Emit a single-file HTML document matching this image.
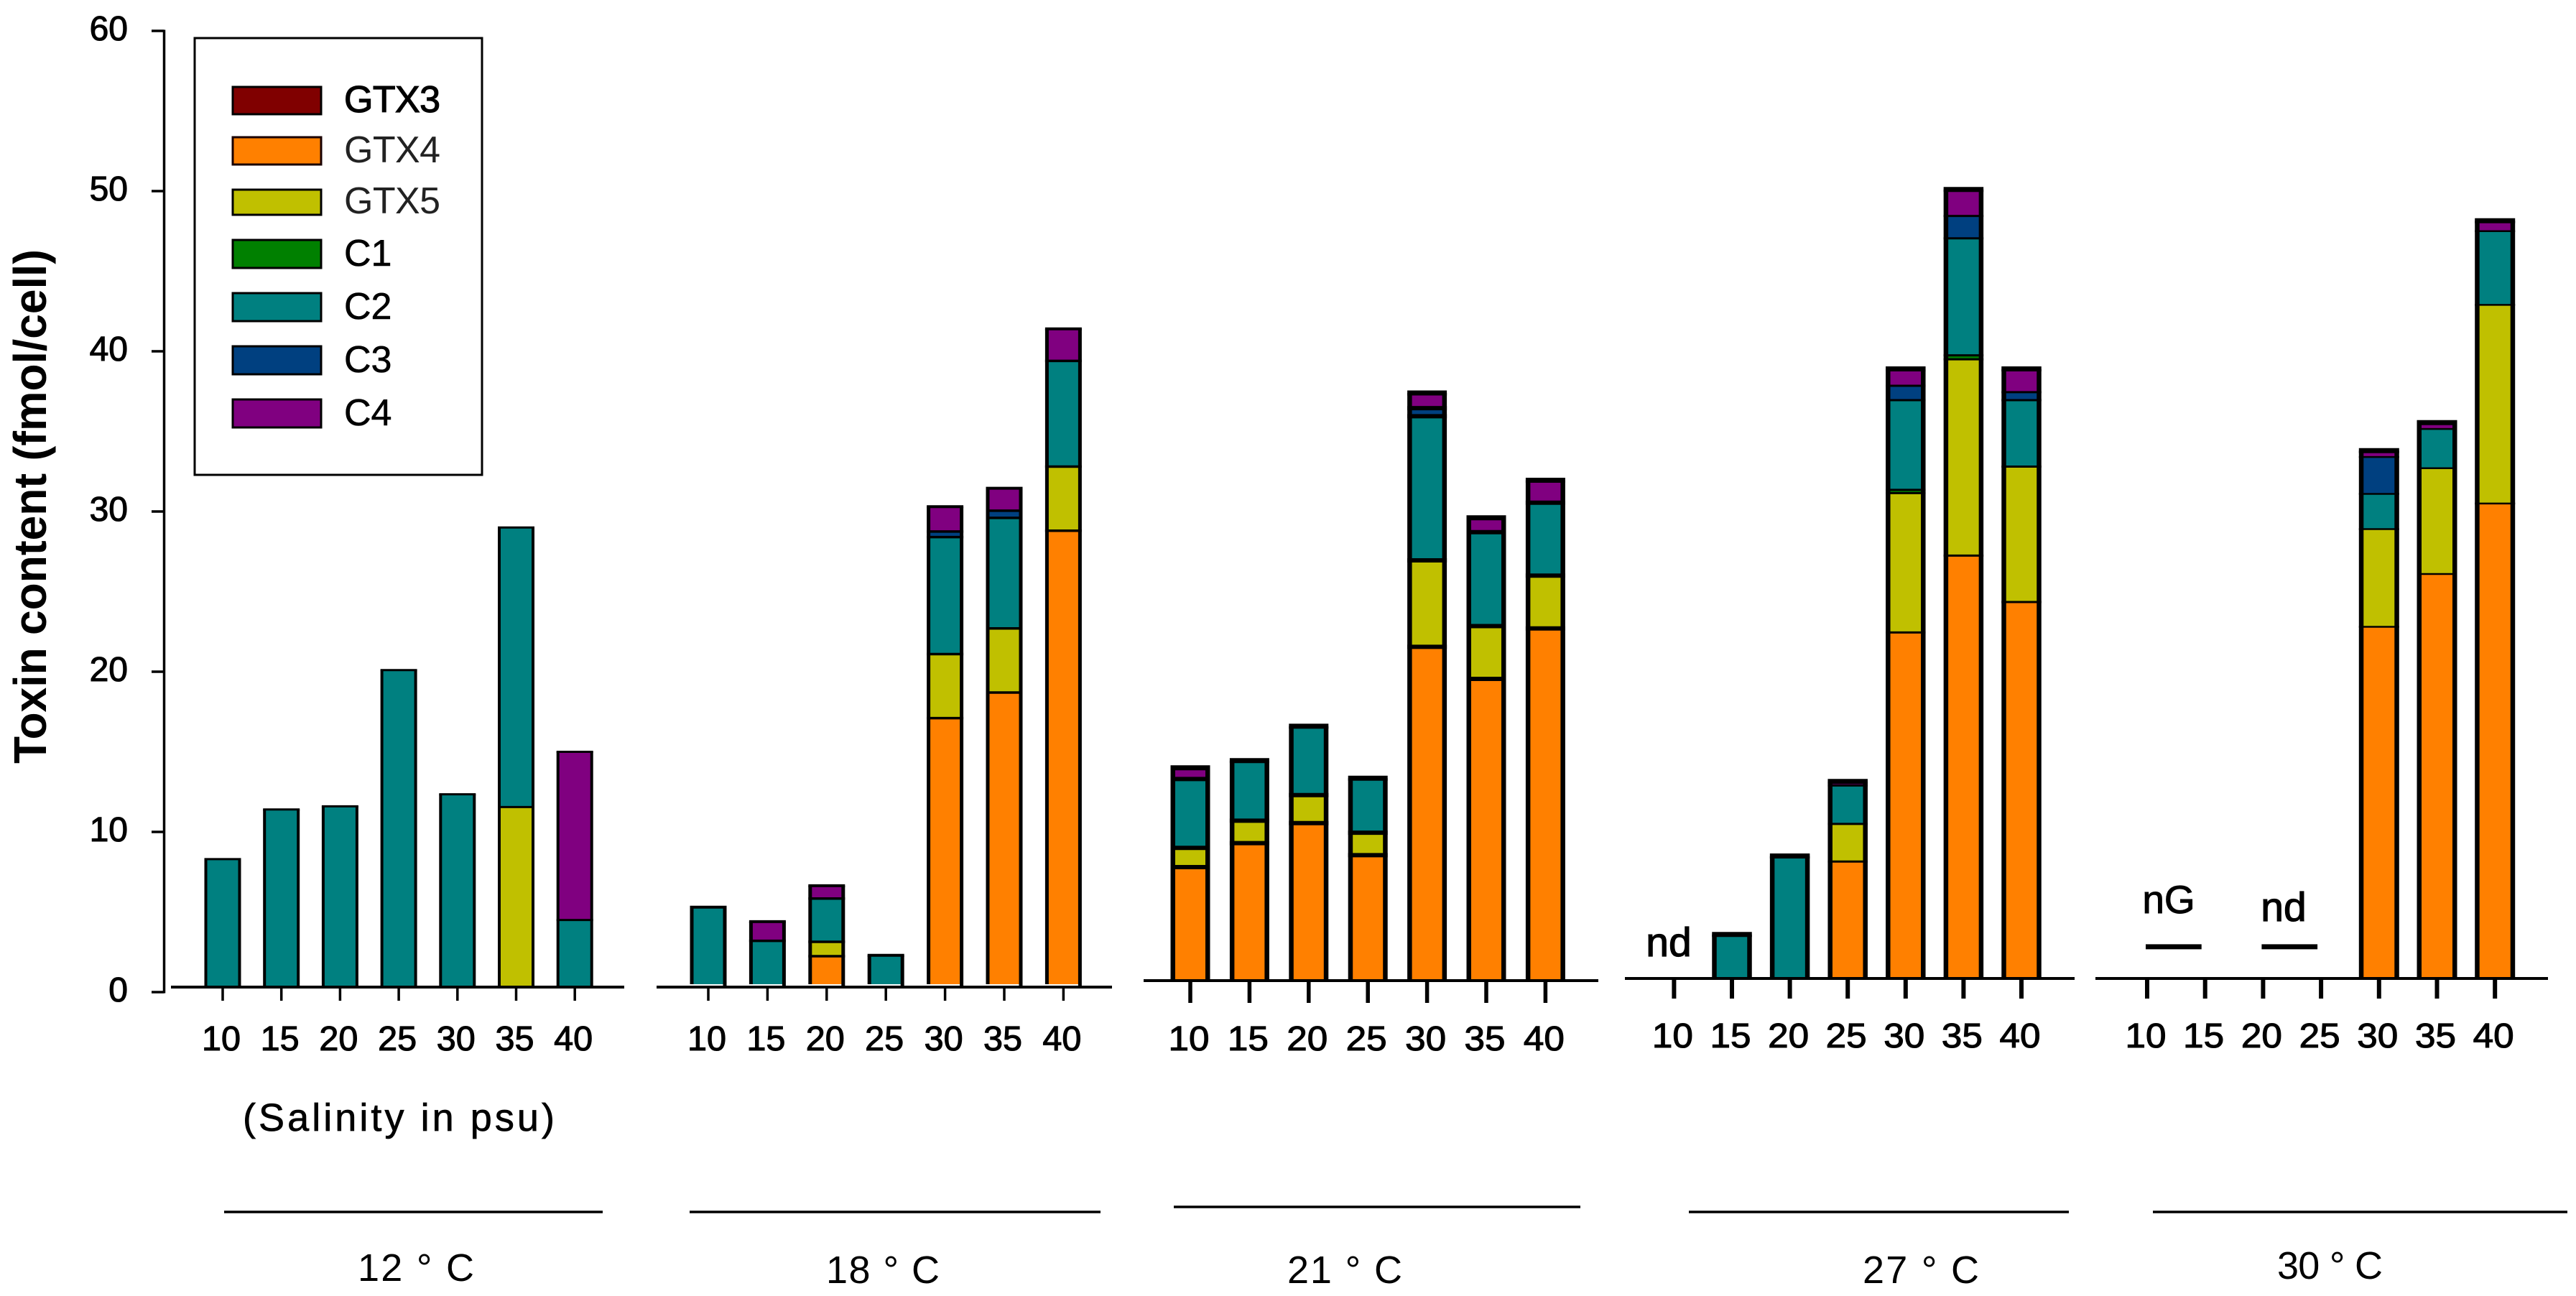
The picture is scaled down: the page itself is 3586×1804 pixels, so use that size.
<!DOCTYPE html>
<html lang="en">
<head>
<meta charset="utf-8">
<title>Toxin content by salinity and temperature</title>
<style>
html,body{margin:0;padding:0;background:#fff;}
svg{display:block;font-family:"Liberation Sans",sans-serif;}
text{fill:#000;}
.num{font-size:48px;stroke:#000;stroke-width:1.1px;}
.leg{font-size:52px;}
</style>
</head>
<body>
<svg id="chart" xmlns="http://www.w3.org/2000/svg" width="3586" height="1804" viewBox="0 0 3586 1804">
  <rect x="0" y="0" width="3586" height="1804" fill="#fff"/>
  <text transform="translate(64,1063) rotate(-90)" font-size="64" font-weight="bold" textLength="716" lengthAdjust="spacingAndGlyphs">Toxin content (fmol/cell)</text>
  <g id="y-axis"></g>
  <g id="panels"></g>

  <g>
    <rect x="271" y="53" width="400" height="608" fill="#fff" stroke="#000" stroke-width="3"/>
    <g>
      <rect x="324" y="121" width="123" height="38" fill="#800000" stroke="#000" stroke-width="3"/>
      <text class="leg" x="479" y="156" textLength="134" stroke="#000" stroke-width="1.2">GTX3</text>
    </g>
    <g>
      <rect x="324" y="191" width="123" height="38" fill="#ff8000" stroke="#1a0000" stroke-width="3"/>
      <text class="leg" x="479" y="226" textLength="134" style="fill:#222">GTX4</text>
    </g>
    <g>
      <rect x="324" y="264" width="123" height="35" fill="#c0c000" stroke="#000" stroke-width="3"/>
      <text class="leg" x="479" y="297" textLength="134" style="fill:#222">GTX5</text>
    </g>
    <g>
      <rect x="324" y="334" width="123" height="39" fill="#008000" stroke="#000" stroke-width="3"/>
      <text class="leg" x="479" y="370" stroke="#000" stroke-width=".6">C1</text>
    </g>
    <g>
      <rect x="324" y="408" width="123" height="39" fill="#008080" stroke="#000" stroke-width="3"/>
      <text class="leg" x="479" y="444" stroke="#000" stroke-width=".6">C2</text>
    </g>
    <g>
      <rect x="324" y="482" width="123" height="39" fill="#004080" stroke="#000" stroke-width="3"/>
      <text class="leg" x="479" y="518" stroke="#000" stroke-width=".6">C3</text>
    </g>
    <g>
      <rect x="324" y="556" width="123" height="39" fill="#800080" stroke="#000" stroke-width="3"/>
      <text class="leg" x="479" y="592" stroke="#000" stroke-width=".6">C4</text>
    </g>
  </g>

  <text x="338" y="1574" font-size="54" textLength="434" lengthAdjust="spacing" stroke="#000" stroke-width=".7">(Salinity in psu)</text>

  <line x1="312" y1="1687" x2="839" y2="1687" stroke="#000" stroke-width="3.5"/>
  <line x1="960" y1="1687" x2="1532" y2="1687" stroke="#000" stroke-width="3.5"/>
  <line x1="1634" y1="1680" x2="2200" y2="1680" stroke="#000" stroke-width="3.5"/>
  <line x1="2351" y1="1687" x2="2880" y2="1687" stroke="#000" stroke-width="3.5"/>
  <line x1="2997" y1="1687" x2="3574" y2="1687" stroke="#000" stroke-width="3.5"/>

  <text x="498" y="1783" font-size="54" textLength="162" lengthAdjust="spacing">12 ° C</text>
  <text x="1150" y="1786" font-size="54" textLength="158" lengthAdjust="spacing">18 ° C</text>
  <text x="1792" y="1786" font-size="54" textLength="160" lengthAdjust="spacing">21 ° C</text>
  <text x="2593" y="1786" font-size="54" textLength="162" lengthAdjust="spacing">27 ° C</text>
  <text x="3170" y="1780" font-size="54" textLength="147" lengthAdjust="spacing">30 ° C</text>

  <text x="2323" y="1331" font-size="57" text-anchor="middle" stroke="#000" stroke-width="1.2">nd</text>
  <text x="3019" y="1271" font-size="55" text-anchor="middle" stroke="#000" stroke-width="1">nG</text>
  <text x="3179" y="1282" font-size="57" text-anchor="middle" stroke="#000" stroke-width="1.2">nd</text>
</svg>
<script>
const salinityLabels = ['10','15','20','25','30','35','40'];
const yTickValues = [0,10,20,30,40,50,60];

const gtx4At12 = [0,0,0,0,0,0,0];
const gtx5At12 = [0,0,0,0,0,11.55,0];
const c1At12   = [0,0,0,0,0,0,0];
const c2At12   = [8.3,11.4,11.6,20.1,12.35,17.45,4.5];
const c3At12   = [0,0,0,0,0,0,0];
const c4At12   = [0,0,0,0,0,0,10.5];

const gtx4At18 = [0,0,2.24,0,17.1,18.7,28.8];
const gtx5At18 = [0,0,0.9,0,4.0,4.0,4.0];
const c1At18   = [0,0,0,0,0,0,0];
const c2At18   = [5.3,3.2,2.7,2.3,7.3,6.9,6.6];
const c3At18   = [0,0,0,0,0.35,0.45,0];
const c4At18   = [0,1.2,0.8,0,1.55,1.4,2.0];

const gtx4At21 = [7.8,9.3,10.55,8.55,21.55,19.55,22.7];
const gtx5At21 = [1.2,1.4,1.75,1.4,5.4,3.3,3.3];
const c1At21   = [0,0,0,0,0,0,0];
const c2At21   = [4.3,3.75,4.3,3.4,9.0,5.86,4.55];
const c3At21   = [0,0,0,0,0.5,0,0];
const c4At21   = [0.7,0,0,0,0.95,0.9,1.4];

const gtx4At27 = [0,0,0,8.15,22.45,27.25,24.35];
const gtx5At27 = [0,0,0,2.35,8.7,12.25,8.45];
const c1At27   = [0,0,0,0,0.2,0.25,0];
const c2At27   = [0,3.6,8.5,2.4,5.6,7.3,4.15];
const c3At27   = [0,0,0,0,0.9,1.4,0.5];
const c4At27   = [0,0,0,0.25,1.05,1.65,1.45];

const gtx4At30 = [0,0,0,0,22.8,26.1,30.5];
const gtx5At30 = [0,0,0,0,6.1,6.6,12.4];
const c1At30   = [0,0,0,0,0,0,0];
const c2At30   = [0,0,0,0,2.2,2.45,4.6];
const c3At30   = [0,0,0,0,2.3,0,0];
const c4At30   = [0,0,0,0,0.4,0.4,0.65];

const noGrowthDashLevel = 2.83;

// ---- series styling and panel layout ----
const seriesKeys = ['gtx4','gtx5','c1','c2','c3','c4'];
const seriesColors = {gtx4:'#ff8000',gtx5:'#c0c000',c1:'#008000',c2:'#008080',c3:'#004080',c4:'#800080'};

const panelDefs = [
  {id:'12c',series:{gtx4:gtx4At12,gtx5:gtx5At12,c1:c1At12,c2:c2At12,c3:c3At12,c4:c4At12},
   axisY:1374,axisX1:238,axisX2:869,x0:310,step:81.7,w:47,side:4,top:3,inner:3,fillGap:0,tickEnd:1393,labelY:1462,tickW:3.5,labelLen:54},
  {id:'18c',series:{gtx4:gtx4At18,gtx5:gtx5At18,c1:c1At18,c2:c2At18,c3:c3At18,c4:c4At18},
   axisY:1374,axisX1:914,axisX2:1548,x0:986,step:82.4,w:46,side:5,top:4,inner:3.5,fillGap:4,tickEnd:1393,labelY:1462,tickW:3.5,labelLen:54},
  {id:'21c',series:{gtx4:gtx4At21,gtx5:gtx5At21,c1:c1At21,c2:c2At21,c3:c3At21,c4:c4At21},
   axisY:1365,axisX1:1592,axisX2:2225,x0:1657,step:82.4,w:48.5,side:6.5,top:7,inner:6,fillGap:0,tickEnd:1396,labelY:1462,tickW:5.5,labelLen:57},
  {id:'27c',series:{gtx4:gtx4At27,gtx5:gtx5At27,c1:c1At27,c2:c2At27,c3:c3At27,c4:c4At27},
   axisY:1362,axisX1:2262,axisX2:2888,x0:2330.4,step:80.6,w:49,side:6.5,top:7,inner:3,fillGap:0,tickEnd:1390,labelY:1458,tickW:6,labelLen:57},
  {id:'30c',series:{gtx4:gtx4At30,gtx5:gtx5At30,c1:c1At30,c2:c2At30,c3:c3At30,c4:c4At30},
   axisY:1362,axisX1:2917,axisX2:3547,x0:2989,step:80.7,w:49.5,side:6.5,top:7,inner:2.5,fillGap:0,tickEnd:1390,labelY:1458,tickW:6,labelLen:57}
];

// ---- axis functions ----
function yScale(v){ return 1381 - 22.3*v; }
function xScale(p,i){ return p.x0 + p.step*i; }

const NS = 'http://www.w3.org/2000/svg';
function add(parent, tag, attrs, text){
  const el = document.createElementNS(NS, tag);
  for(const k in attrs){ el.setAttribute(k, attrs[k]); }
  if(text !== undefined){ el.textContent = text; }
  parent.appendChild(el);
  return el;
}

// ---- y axis ----
const yAxisGroup = document.getElementById('y-axis');
const yLine = add(yAxisGroup,'line',{x1:228.5,x2:228.5,y1:yScale(60)-1.5,y2:yScale(0)+1.5,stroke:'#000','stroke-width':3.5});


yTickValues.forEach(function(t){
  const tick = add(yAxisGroup,'line',{x1:211,x2:228.5,y1:yScale(t),y2:yScale(t),stroke:'#000','stroke-width':3.5});
  
  
  const lab = add(yAxisGroup,'text',{x:178,y:yScale(t)+13,'text-anchor':'end','class':'num'},String(t));
  
  
});

// ---- panels ----
const panelsGroup = document.getElementById('panels');
panelDefs.forEach(function(p){
  const g = add(panelsGroup,'g',{});
  
  

  salinityLabels.forEach(function(label,i){
    const cx = xScale(p,i);
    const barG = add(g,'g',{});
    
    
    let cum = 0;
    const tops = [];
    seriesKeys.forEach(function(key){
      const val = p.series[key][i];
      if(!(val > 0)){ return; }
      const yTop = yScale(cum + val);
      const yBot = Math.min(yScale(cum), p.axisY - p.fillGap);
      cum += val;
      const seg = add(barG,'rect',{x:cx-p.w/2,y:yTop,width:p.w,height:Math.max(0,yBot-yTop),fill:seriesColors[key]});
      
      
      tops.push(yTop);
    });
    if(cum > 0){
      const half = p.w/2;
      tops.forEach(function(y,idx){
        const isTop = idx === tops.length-1;
        const sep = add(barG,'line',{x1:cx-half-p.side/2,x2:cx+half+p.side/2,y1:y,y2:y,stroke:'#000','stroke-width':isTop?p.top:p.inner});
        
        
      });
      const yEnd = tops[tops.length-1];
      const left = add(barG,'line',{x1:cx-half,x2:cx-half,y1:yEnd,y2:p.axisY-p.fillGap,stroke:'#000','stroke-width':p.side});
      
      
      const right = add(barG,'line',{x1:cx+half,x2:cx+half,y1:yEnd,y2:p.axisY,stroke:'#000','stroke-width':p.side});
      
      
    }
    const tick = add(g,'line',{x1:cx,x2:cx,y1:p.axisY,y2:p.tickEnd,stroke:'#000','stroke-width':p.tickW});
    
    
    const lab = add(g,'text',{x:cx-2,y:p.labelY,'text-anchor':'middle','class':'num',textLength:p.labelLen,lengthAdjust:'spacingAndGlyphs'},label);
    
    
  });

  const axis = add(g,'line',{x1:p.axisX1,x2:p.axisX2,y1:p.axisY,y2:p.axisY,stroke:'#000','stroke-width':4});
  
  
});

// ---- no-growth / not-detected dashes in the 30 C panel ----
const p30 = panelDefs[4];
[[0,1],[2,3]].forEach(function(pair){
  const dash = add(panelsGroup,'line',{x1:xScale(p30,pair[0])-2,x2:xScale(p30,pair[1])-5,y1:yScale(noGrowthDashLevel),y2:yScale(noGrowthDashLevel),stroke:'#000','stroke-width':7});
  
  
});
</script>
</body>
</html>
